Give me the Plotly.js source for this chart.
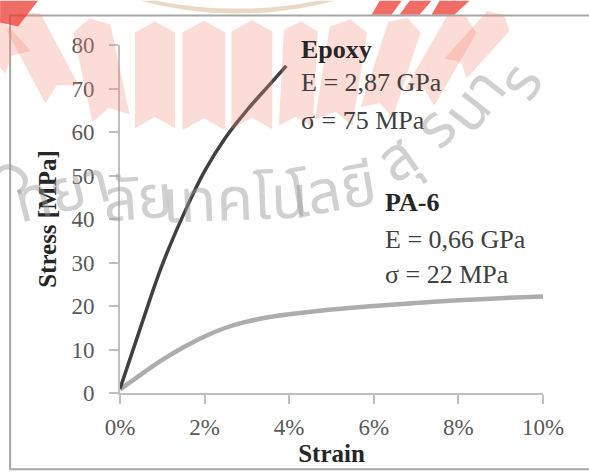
<!DOCTYPE html>
<html><head><meta charset="utf-8">
<script src="https://cdn.plot.ly/plotly-3.0.1.min.js"></script>
<style>html,body{margin:0;padding:0;background:#fff}#chart{width:589px;height:472px}</style>
</head><body><div id="chart"></div>
<script>
// ---- data ----
const epoxyStrain = [0, 0.005, 0.010, 0.015, 0.020, 0.025, 0.030, 0.035, 0.0393];
const epoxyStress = [1, 15.5, 29.5, 41, 51, 58.8, 65.0, 70.5, 75.2];
const pa6Strain = [0, 0.005, 0.01, 0.015, 0.02, 0.025, 0.03, 0.035, 0.04, 0.05, 0.06, 0.07, 0.08, 0.09, 0.10];
const pa6Stress = [0.8, 4.3, 7.6, 10.5, 13.0, 15.0, 16.4, 17.4, 18.1, 19.2, 20.0, 20.7, 21.3, 21.8, 22.2];
const xTickVals = [0, 0.02, 0.04, 0.06, 0.08, 0.10];
const xTickText = ['0%', '2%', '4%', '6%', '8%', '10%'];
const yTickVals = [0, 10, 20, 30, 40, 50, 60, 70, 80];
const yTickText = ['0', '10', '20', '30', '40', '50', '60', '70', '80'];
const epoxyLabel = ['Epoxy', 'E = 2,87 GPa', 'σ = 75 MPa'];
const pa6Label = ['PA-6', 'E = 0,66 GPa', 'σ = 22 MPa'];
const watermarkChunks = ['วิ', 'ทยา', 'ลัย', 'เทคโน', 'โลยี', 'สุ', 'ร', 'นา', 'ร'];

// ---- geometry helpers (layout only) ----
const L = 120, R = 45.5, T = 44.5, B = 78.5, W = 589, H = 472;
const pw = W - L - R, ph = H - T - B;
const px = x => (x - L) / pw;
const py = y => (H - B - y) / ph;

const traces = [
  {x: pa6Strain, y: pa6Stress, mode: 'lines', line: {color: '#adadad', width: 4.5, shape: 'spline', smoothing: 1.1}, hoverinfo: 'skip'},
  {x: epoxyStrain, y: epoxyStress, mode: 'lines', line: {color: '#404040', width: 3.5, shape: 'spline', smoothing: 1.1}, hoverinfo: 'skip'}
];

// petals of the background logo (decorative)
const petals = [
  [18, 62, 34, 72, -42], [62, 94, 38, 82, -28], [111, 118, 38, 92, -12],
  [155, 128, 40, 96, 0], [204, 130, 43, 98, 0], [252, 129, 41, 98, 0],
  [296, 126, 34, 96, 3], [334, 122, 38, 94, 9], [377, 112, 34, 90, 18],
  [420, 97, 34, 84, 30], [456, 68, 30, 64, 42]
];
const shapes = [];
petals.forEach(([bx, by, w, h, a]) => {
  const d = 0.28 * w, r = a * Math.PI / 180, c = Math.cos(r), s = Math.sin(r);
  const pts = [[-w/2, 0], [0, d], [w/2, 0], [w/2, h], [0, h + d], [-w/2, h]];
  const path = pts.map(([x, y], i) => {
    const X = bx + x * c + y * s, Y = by - (-x * s + y * c);
    return (i ? 'L' : 'M') + px(X).toFixed(4) + ',' + py(Y).toFixed(4);
  }).join(' ') + ' Z';
  shapes.push({type: 'path', xref: 'paper', yref: 'paper', path, fillcolor: 'rgba(245,140,120,0.30)', line: {width: 0}, layer: 'above'});
});
// top red strokes and beige ring
[[0, 0, 38, 0, 18, 26, 0, 22], [380, 0, 402, 0, 392, 14, 372, 14], [410, 0, 432, 0, 420, 14, 400, 14], [440, 0, 470, 0, 455, 14, 432, 14]].forEach(p => {
  shapes.push({type: 'path', xref: 'paper', yref: 'paper',
    path: `M${px(p[0])},${py(p[1])} L${px(p[2])},${py(p[3])} L${px(p[4])},${py(p[5])} L${px(p[6])},${py(p[7])} Z`,
    fillcolor: 'rgba(235,60,50,0.75)', line: {width: 0}, layer: 'above'});
});
shapes.push({type: 'path', xref: 'paper', yref: 'paper',
  path: `M${px(140)},${py(0)} Q${px(237)},${py(26)} ${px(335)},${py(0)} L${px(318)},${py(0)} Q${px(237)},${py(16)} ${px(156)},${py(0)} Z`,
  fillcolor: 'rgba(215,195,160,0.6)', line: {width: 0}, layer: 'above'});
// frame
shapes.push({type: 'rect', xref: 'paper', yref: 'paper', x0: px(10), x1: px(620), y0: py(470), y1: py(15),
  line: {color: '#a6a6a6', width: 2}, fillcolor: 'rgba(0,0,0,0)', layer: 'below'});

const annotations = [];
const serif = 'Liberation Serif, Times New Roman, serif';
const epoxyY = [78.9, 71.3, 62.7], pa6Y = [43.7, 35.2, 27.3];
epoxyLabel.forEach((t, i) => annotations.push({xref: 'x', yref: 'y', x: 0.0422, y: epoxyY[i], xanchor: 'left', yanchor: 'middle', showarrow: false,
  text: i === 0 ? '<b>' + t + '</b>' : t, font: {family: serif, size: 26, color: i === 0 ? '#262626' : '#404040'}}));
pa6Label.forEach((t, i) => annotations.push({xref: 'x', yref: 'y', x: 0.0622, y: pa6Y[i], xanchor: 'left', yanchor: 'middle', showarrow: false,
  text: i === 0 ? '<b>' + t + '</b>' : t, font: {family: serif, size: 26, color: i === 0 ? '#262626' : '#404040'}}));
// watermark chunks: [x px, y px, angle]
const wmPos = [[10, 176, -62], [62, 193, -14], [138, 200, -4], [235, 201, -2], [333, 192, -10], [398, 160, -35], [437, 128, -45], [476, 101, -52], [522, 82, -58]];
watermarkChunks.forEach((t, i) => annotations.push({xref: 'paper', yref: 'paper', x: px(wmPos[i][0]), y: py(wmPos[i][1]),
  xanchor: 'center', yanchor: 'middle', textangle: wmPos[i][2], showarrow: false, text: t,
  font: {family: 'Noto Sans Thai, Noto Sans, DejaVu Sans, sans-serif', size: 60, color: 'rgba(150,150,150,0.45)'}}));

const axisCommon = {ticks: 'outside', ticklen: 9, tickwidth: 2, tickcolor: '#bfbfbf', showline: true, linecolor: '#bfbfbf', linewidth: 2,
  showgrid: false, zeroline: false, tickfont: {family: serif, size: 23, color: '#595959'}, fixedrange: true};
const layout = {
  width: W, height: H, margin: {l: L, r: R, t: T, b: B, pad: 0},
  paper_bgcolor: '#ffffff', plot_bgcolor: 'rgba(0,0,0,0)', showlegend: false,
  font: {family: serif, color: '#595959'},
  xaxis: Object.assign({}, axisCommon, {range: [0, 0.1], tickmode: 'array', tickvals: xTickVals, ticktext: xTickText, ticklabelstandoff: 3,
    title: {text: '<b>Strain</b>', font: {family: serif, size: 25, color: '#262626'}, standoff: 4}}),
  yaxis: Object.assign({}, axisCommon, {range: [0, 80], tickmode: 'array', tickvals: yTickVals, ticktext: yTickText, ticklabelstandoff: 10,
    title: {text: '<b>Stress [MPa]</b>', font: {family: serif, size: 25, color: '#262626'}, standoff: 8}}),
  shapes, annotations
};
Plotly.newPlot('chart', traces, layout, {staticPlot: true, displayModeBar: false});
</script></body></html>
